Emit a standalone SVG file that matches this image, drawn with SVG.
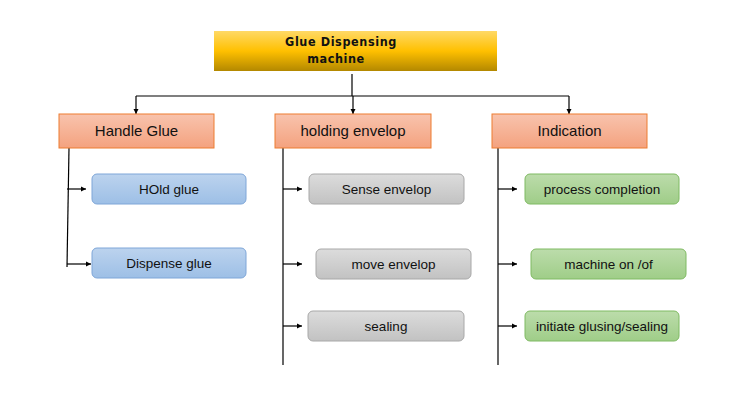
<svg xmlns="http://www.w3.org/2000/svg" width="733" height="402" viewBox="0 0 733 402">
<defs>
<linearGradient id="gTop" x1="0" y1="0" x2="0" y2="1"><stop offset="0" stop-color="#ffd966"/><stop offset="0.5" stop-color="#ffc000"/><stop offset="1" stop-color="#b38800"/></linearGradient>
<linearGradient id="gSal" x1="0" y1="0" x2="0" y2="1"><stop offset="0" stop-color="#f8c3ad"/><stop offset="1" stop-color="#f4a27f"/></linearGradient>
<linearGradient id="gBlue" x1="0" y1="0" x2="0" y2="1"><stop offset="0" stop-color="#bcd3ee"/><stop offset="1" stop-color="#9dbfe6"/></linearGradient>
<linearGradient id="gGray" x1="0" y1="0" x2="0" y2="1"><stop offset="0" stop-color="#dcdcdc"/><stop offset="1" stop-color="#c2c2c2"/></linearGradient>
<linearGradient id="gGreen" x1="0" y1="0" x2="0" y2="1"><stop offset="0" stop-color="#bcdcab"/><stop offset="1" stop-color="#9fcd88"/></linearGradient>
<marker id="arr" markerWidth="6" markerHeight="6" refX="5" refY="3" orient="auto" markerUnits="userSpaceOnUse"><path d="M0,0.5 L5,3 L0,5.5 z" fill="#000"/></marker>
<style>
.t{font-family:"Liberation Sans",Arial,sans-serif;font-size:13.5px;fill:#111;text-anchor:middle}
.h{font-family:"Liberation Sans",Arial,sans-serif;font-size:15px;fill:#111;text-anchor:middle}
.ttl{font-family:"DejaVu Sans Condensed","DejaVu Sans",sans-serif;font-stretch:condensed;font-size:12.5px;font-weight:bold;letter-spacing:0.6px;fill:#111;text-anchor:middle}
.c{stroke:#000;stroke-width:1.2;fill:none}
.ca{stroke:#000;stroke-width:1.2;fill:none;marker-end:url(#arr)}
.sal{fill:url(#gSal);stroke:#ed7d31;stroke-width:1}
.blu{fill:url(#gBlue);stroke:#7ea6d8;stroke-width:1}
.gry{fill:url(#gGray);stroke:#a8a8a8;stroke-width:1}
.grn{fill:url(#gGreen);stroke:#7fba62;stroke-width:1}
</style>
</defs>
<rect width="733" height="402" fill="#fff"/>
<g id="connectors">
<path class="c" d="M352,74 V96"/>
<path class="c" d="M136,96 H569"/>
<path class="ca" d="M136,96 V114"/>
<path class="ca" d="M353,96 V114"/>
<path class="ca" d="M569,96 V114"/>
<path class="c" d="M69,148 L67,267"/>
<path class="ca" d="M67,189 H86"/>
<path class="ca" d="M67,264 H91"/>
<path class="c" d="M283,148 V365"/>
<path class="ca" d="M283,189 H302"/>
<path class="ca" d="M283,264 H302"/>
<path class="ca" d="M283,326 H302"/>
<path class="c" d="M498,148 V365"/>
<path class="ca" d="M498,189 H517"/>
<path class="ca" d="M498,264 H517"/>
<path class="ca" d="M498,326 H517"/>
</g>
<g id="root"><rect x="214" y="31" width="283" height="40" fill="url(#gTop)"/><text class="ttl" x="341" y="46">Glue Dispensing</text><text class="ttl" x="336" y="63">machine</text></g>
<g id="handle-glue"><rect class="sal" x="59" y="114" width="155" height="34"/><text class="h" x="136.5" y="136">Handle Glue</text></g>
<g id="holding-envelop"><rect class="sal" x="275" y="114" width="156" height="34"/><text class="h" x="353" y="136">holding envelop</text></g>
<g id="indication"><rect class="sal" x="492" y="114" width="155" height="34"/><text class="h" x="569.5" y="136">Indication</text></g>
<g id="hold-glue"><rect class="blu" x="92" y="174" width="154" height="30" rx="5"/><text class="t" x="169" y="194">HOld glue</text></g>
<g id="dispense-glue"><rect class="blu" x="92" y="248" width="154" height="30" rx="5"/><text class="t" x="169" y="268">Dispense glue</text></g>
<g id="sense-envelop"><rect class="gry" x="309" y="174" width="155" height="30" rx="5"/><text class="t" x="386.5" y="194">Sense envelop</text></g>
<g id="move-envelop"><rect class="gry" x="316" y="249" width="155" height="30" rx="5"/><text class="t" x="393.5" y="269">move envelop</text></g>
<g id="sealing"><rect class="gry" x="308" y="311" width="156" height="30" rx="5"/><text class="t" x="386" y="331">sealing</text></g>
<g id="process-completion"><rect class="grn" x="525" y="174" width="154" height="30" rx="5"/><text class="t" x="602" y="194">process completion</text></g>
<g id="machine-on-of"><rect class="grn" x="531" y="249" width="155" height="30" rx="5"/><text class="t" x="608.5" y="269">machine on /of</text></g>
<g id="initiate"><rect class="grn" x="525" y="311" width="154" height="30" rx="5"/><text class="t" x="602" y="331">initiate glusing/sealing</text></g>
</svg>
